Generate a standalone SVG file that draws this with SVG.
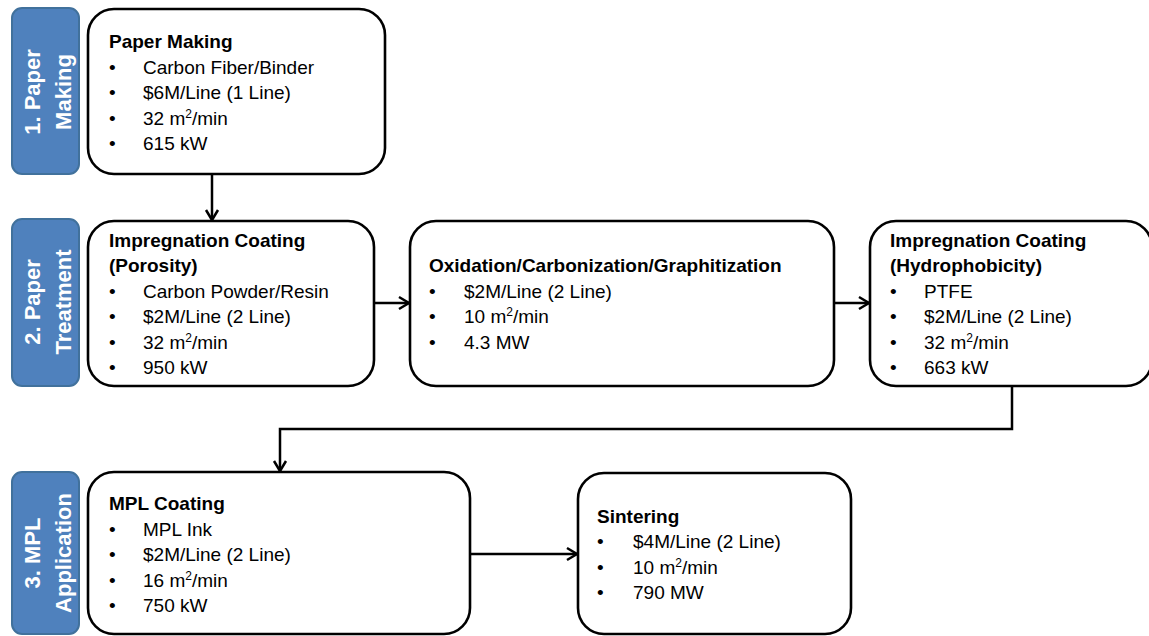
<svg xmlns="http://www.w3.org/2000/svg" width="1149" height="636" viewBox="0 0 1149 636">
<defs>
<marker id="arr" markerUnits="userSpaceOnUse" markerWidth="16" markerHeight="16" refX="12" refY="7" orient="auto" viewBox="0 0 16 14">
<path d="M2,1 L12,7 L2,13" fill="none" stroke="#000" stroke-width="2.5"/>
</marker>
</defs>
<style>
.lab{fill:#4F81BD;stroke:#41719C;stroke-width:2}
.lt{font-family:"Liberation Sans",Arial,sans-serif;font-weight:bold;font-size:22px;fill:#fff;text-anchor:middle}
.box{fill:#fff;stroke:#000;stroke-width:2.6}
.t{font-family:"Liberation Sans",Arial,sans-serif;font-size:19px;fill:#000}
.b{font-weight:bold}
.con{fill:none;stroke:#000;stroke-width:2.5}
</style>
<rect width="1149" height="636" fill="#fff"/>

<g id="label1">
<rect class="lab" x="12" y="8" width="67" height="166" rx="10"/>
<g transform="translate(40,92) rotate(-90)"><text class="lt" x="0" y="0">1. Paper</text><text class="lt" x="0" y="31">Making</text></g>
</g>
<g id="label2">
<rect class="lab" x="12" y="219" width="67" height="167" rx="10"/>
<g transform="translate(40,302) rotate(-90)"><text class="lt" x="0" y="0">2. Paper</text><text class="lt" x="0" y="31">Treatment</text></g>
</g>
<g id="label3">
<rect class="lab" x="12" y="472" width="67" height="162" rx="10"/>
<g transform="translate(40,553) rotate(-90)"><text class="lt" x="0" y="0">3. MPL</text><text class="lt" x="0" y="31">Application</text></g>
</g>

<g id="connectors">
<line class="con" x1="212" y1="174" x2="212" y2="220" marker-end="url(#arr)"/>
<line class="con" x1="374" y1="303" x2="409" y2="303" marker-end="url(#arr)"/>
<line class="con" x1="834" y1="303" x2="869" y2="303" marker-end="url(#arr)"/>
<polyline class="con" points="1012,386 1012,429 280,429 280,471" marker-end="url(#arr)"/>
<line class="con" x1="470" y1="554" x2="577" y2="554" marker-end="url(#arr)"/>
</g>

<g id="paper-making">
<rect class="box" x="88" y="9" width="297" height="165" rx="26"/>
<text class="t b" x="109" y="48">Paper Making</text>
<text class="t" x="109" y="74">•</text><text class="t" x="143" y="74">Carbon Fiber/Binder</text>
<text class="t" x="109" y="99">•</text><text class="t" x="143" y="99">$6M/Line (1 Line)</text>
<text class="t" x="109" y="125">•</text><text class="t" x="143" y="125">32 m<tspan dy="-7" font-size="12">2</tspan><tspan dy="7">/min</tspan></text>
<text class="t" x="109" y="150">•</text><text class="t" x="143" y="150">615 kW</text>
</g>

<g id="impregnation-porosity">
<rect class="box" x="88" y="221" width="286" height="165" rx="26"/>
<text class="t b" x="109" y="247">Impregnation Coating</text>
<text class="t b" x="109" y="272">(Porosity)</text>
<text class="t" x="109" y="298">•</text><text class="t" x="143" y="298">Carbon Powder/Resin</text>
<text class="t" x="109" y="323">•</text><text class="t" x="143" y="323">$2M/Line (2 Line)</text>
<text class="t" x="109" y="349">•</text><text class="t" x="143" y="349">32 m<tspan dy="-7" font-size="12">2</tspan><tspan dy="7">/min</tspan></text>
<text class="t" x="109" y="374">•</text><text class="t" x="143" y="374">950 kW</text>
</g>

<g id="oxidation">
<rect class="box" x="410" y="221" width="424" height="165" rx="26"/>
<text class="t b" x="429" y="272">Oxidation/Carbonization/Graphitization</text>
<text class="t" x="429" y="298">•</text><text class="t" x="464" y="298">$2M/Line (2 Line)</text>
<text class="t" x="429" y="323">•</text><text class="t" x="464" y="323">10 m<tspan dy="-7" font-size="12">2</tspan><tspan dy="7">/min</tspan></text>
<text class="t" x="429" y="349">•</text><text class="t" x="464" y="349">4.3 MW</text>
</g>

<g id="impregnation-hydrophobicity">
<rect class="box" x="870" y="221" width="282" height="165" rx="26"/>
<text class="t b" x="890" y="247">Impregnation Coating</text>
<text class="t b" x="890" y="272">(Hydrophobicity)</text>
<text class="t" x="890" y="298">•</text><text class="t" x="924" y="298">PTFE</text>
<text class="t" x="890" y="323">•</text><text class="t" x="924" y="323">$2M/Line (2 Line)</text>
<text class="t" x="890" y="349">•</text><text class="t" x="924" y="349">32 m<tspan dy="-7" font-size="12">2</tspan><tspan dy="7">/min</tspan></text>
<text class="t" x="890" y="374">•</text><text class="t" x="924" y="374">663 kW</text>
</g>

<g id="mpl-coating">
<rect class="box" x="88" y="472" width="382" height="162" rx="26"/>
<text class="t b" x="109" y="510">MPL Coating</text>
<text class="t" x="109" y="536">•</text><text class="t" x="143" y="536">MPL Ink</text>
<text class="t" x="109" y="561">•</text><text class="t" x="143" y="561">$2M/Line (2 Line)</text>
<text class="t" x="109" y="587">•</text><text class="t" x="143" y="587">16 m<tspan dy="-7" font-size="12">2</tspan><tspan dy="7">/min</tspan></text>
<text class="t" x="109" y="612">•</text><text class="t" x="143" y="612">750 kW</text>
</g>

<g id="sintering">
<rect class="box" x="578" y="473" width="273" height="161" rx="26"/>
<text class="t b" x="597" y="523">Sintering</text>
<text class="t" x="597" y="548">•</text><text class="t" x="633" y="548">$4M/Line (2 Line)</text>
<text class="t" x="597" y="574">•</text><text class="t" x="633" y="574">10 m<tspan dy="-7" font-size="12">2</tspan><tspan dy="7">/min</tspan></text>
<text class="t" x="597" y="599">•</text><text class="t" x="633" y="599">790 MW</text>
</g>
</svg>
